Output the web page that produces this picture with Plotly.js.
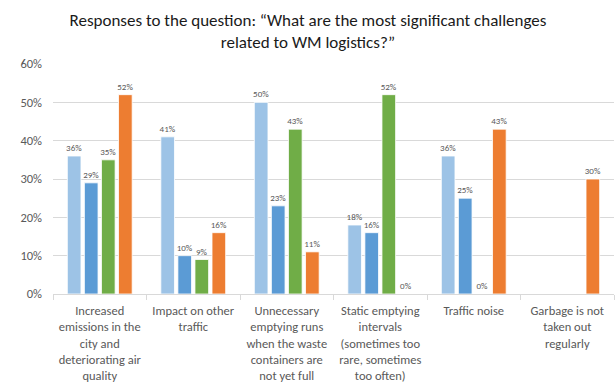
<!DOCTYPE html>
<html>
<head>
<meta charset="utf-8">
<script src="https://cdn.plot.ly/plotly-3.0.1.min.js"></script>
<style>html,body{margin:0;padding:0;background:#fff;}#chart{width:616px;height:383px;}</style>
</head>
<body>
<div id="chart"></div>
<script>
const categories = [
  "Increased<br>emissions in the<br>city and<br>deteriorating air<br>quality",
  "Impact on other<br>traffic",
  "Unnecessary<br>emptying runs<br>when the waste<br>containers are<br>not yet full",
  "Static emptying<br>intervals<br>(sometimes too<br>rare, sometimes<br>too often)",
  "Traffic noise",
  "Garbage is not<br>taken out<br>regularly"
];
const seriesNames = ["Series 1", "Series 2", "Series 3", "Series 4"];
const series1 = [36, 41, 50, 18, 36, null];
const series2 = [29, 10, 23, 16, 25, null];
const series3 = [35, 9, 43, 52, 0, null];
const series4 = [52, 16, 11, 0, 43, 30];
const colors = ["#9DC3E6", "#5B9BD5", "#70AD47", "#ED7D31"];
const allSeries = [series1, series2, series3, series4];
const FONT = "Carlito, Lato, 'Open Sans', sans-serif";

const traces = allSeries.map((vals, i) => ({
  type: "bar",
  name: seriesNames[i],
  x: categories,
  y: vals,
  text: vals.map(v => (v === null ? "" : v + "%")),
  texttemplate: "%{text}",
  marker: {color: colors[i], line: {color: "#ffffff", width: 0.8}},
  textposition: "outside",
  constraintext: "none",
  textfont: {family: FONT, size: 9, color: "#595959"},
  cliponaxis: false
}));

const layout = {
  width: 616, height: 383,
  margin: {l: 53, r: 2, t: 64, b: 89},
  paper_bgcolor: "#ffffff", plot_bgcolor: "#ffffff",
  showlegend: false,
  barmode: "group",
  bargap: 0.27,
  bargroupgap: 0.2,
  title: {
    text: "Responses to the question: “What are the most significant challenges<br>related to WM logistics?”",
    font: {family: FONT, size: 17, color: "#1a1a1a"},
    x: 0.5, xanchor: "center", y: 0.932, yanchor: "top", yref: "container"
  },
  xaxis: {
    type: "category",
    showgrid: false,
    showline: true, linecolor: "#d9d9d9", linewidth: 1,
    ticks: "outside", tickson: "boundaries", ticklen: 5, tickcolor: "#d9d9d9",
    tickfont: {family: FONT, size: 12.5, color: "#595959"},
    tickangle: 0,
    ticklabelstandoff: 5,
    automargin: false
  },
  yaxis: {
    range: [0, 60], dtick: 10, ticksuffix: "%",
    showgrid: true, gridcolor: "#d9d9d9", gridwidth: 1,
    zeroline: false, showline: false,
    tickfont: {family: FONT, size: 12.5, color: "#595959"},
    ticklen: 0, ticks: "",
    ticklabelstandoff: 10,
    automargin: false
  },
  font: {family: FONT}
};

Plotly.newPlot("chart", traces, layout, {displayModeBar: false, staticPlot: true});
</script>
</body>
</html>
